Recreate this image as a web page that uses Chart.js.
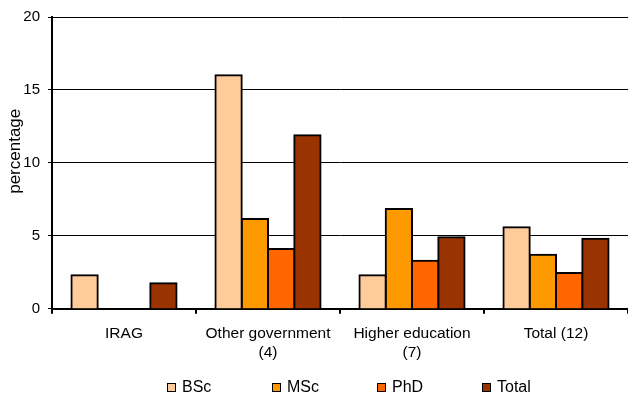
<!DOCTYPE html>
<html>
<head>
<meta charset="utf-8">
<script src="https://cdn.jsdelivr.net/npm/chart.js@4/dist/chart.umd.min.js"></script>
<style>
  html, body { margin: 0; padding: 0; background: #fff; }
  #wrap { position: relative; width: 628px; height: 394px; }
  #legend {
    position: absolute; left: 167px; top: 379px;
    display: flex; font: 16px "Liberation Sans", Arial, sans-serif; color: #000;
  }
  #legend .item { display: flex; align-items: center; width: 105px; height: 16px; }
  #legend .box { width: 7px; height: 7px; border: 1.5px solid #000; margin-right: 6px; }
</style>
</head>
<body>
<div id="wrap">
  <canvas id="degreeChart" width="628" height="394"></canvas>
  <div id="legend"></div>
</div>
<script>
// Share of staff per sector, by degree
const sectors = ['IRAG', ['Other government', '(4)'], ['Higher education', '(7)'], 'Total (12)'];
const bscValues = [2.3, 16.0, 2.3, 5.6];
const mscValues = [0, 6.15, 6.85, 3.7];
const phdValues = [0, 4.1, 3.3, 2.45];
const totalValues = [1.75, 11.9, 4.9, 4.8];
const yTicks = [0, 5, 10, 15, 20];
const yTitle = 'percentage';

const fontFamily = '"Liberation Sans", Arial, sans-serif';

document.addEventListener('DOMContentLoaded', () => {
    const chart = initDegreeChart();
    buildLegend(chart);
});

// Rotated y-axis title, sitting a little above the middle of the axis
const yTitlePlugin = {
    id: 'yTitle',
    afterDraw(chart) {
        const { ctx, chartArea } = chart;
        ctx.save();
        ctx.translate(15, chartArea.top + chartArea.height * 0.46);
        ctx.rotate(-Math.PI / 2);
        ctx.font = '17px ' + fontFamily;
        ctx.fillStyle = '#000';
        ctx.textAlign = 'center';
        ctx.textBaseline = 'middle';
        ctx.fillText(yTitle, 0, 0);
        ctx.restore();
    }
};

function initDegreeChart() {
    const ctx = document.getElementById('degreeChart').getContext('2d');
    const series = [
        { label: 'BSc', data: bscValues, color: '#FFCC99' },
        { label: 'MSc', data: mscValues, color: '#FF9900' },
        { label: 'PhD', data: phdValues, color: '#FF6600' },
        { label: 'Total', data: totalValues, color: '#993300' }
    ];
    return new Chart(ctx, {
        type: 'bar',
        data: {
            labels: sectors,
            datasets: series.map(s => ({
                label: s.label,
                data: s.data,
                backgroundColor: s.color,
                borderColor: '#000',
                borderWidth: 2,
                inflateAmount: 1,
                categoryPercentage: 0.73,
                barPercentage: 1
            }))
        },
        plugins: [yTitlePlugin],
        options: {
            responsive: false,
            animation: false,
            layout: { padding: { top: 16, right: 0, bottom: 22, left: 0 } },
            plugins: {
                legend: { display: false },
                tooltip: { enabled: false }
            },
            scales: {
                x: {
                    grid: {
                        drawOnChartArea: false,
                        offset: true,
                        color: '#000',
                        lineWidth: 2,
                        tickLength: 5
                    },
                    border: { color: '#000', width: 2 },
                    ticks: {
                        color: '#000',
                        padding: 10,
                        maxRotation: 0,
                        font: { family: fontFamily, size: 15.5, lineHeight: 1.23 }
                    }
                },
                y: {
                    min: 0,
                    max: 20,
                    afterBuildTicks: axis => { axis.ticks = yTicks.map(v => ({ value: v })); },
                    afterFit: axis => { axis.width = 52; },
                    grid: { color: '#000', lineWidth: 1, tickLength: 4 },
                    border: { color: '#000', width: 2 },
                    ticks: {
                        color: '#000',
                        padding: 8,
                        font: { family: fontFamily, size: 15 }
                    }
                }
            }
        }
    });
}

// Legend drawn in HTML so the items keep an even spacing
function buildLegend(chart) {
    const legend = document.getElementById('legend');
    chart.data.datasets.forEach(ds => {
        const item = document.createElement('div');
        item.className = 'item';
        const box = document.createElement('span');
        box.className = 'box';
        box.style.background = ds.backgroundColor;
        const text = document.createElement('span');
        text.innerText = ds.label;
        item.appendChild(box);
        item.appendChild(text);
        legend.appendChild(item);
    });
}
</script>
</body>
</html>
